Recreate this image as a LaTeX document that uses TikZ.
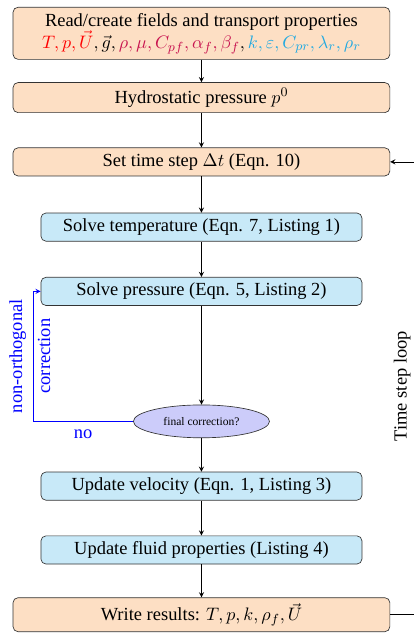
\documentclass[tikz,border=0pt]{standalone}
\usepackage{amsmath,amssymb}
\usepackage{fontspec}
\setmainfont{Liberation Serif}
\usepackage{tikz}
\usetikzlibrary{shapes.geometric, arrows.meta}
\definecolor{boxorange}{RGB}{253,223,196}
\definecolor{boxblue}{RGB}{200,233,248}
\definecolor{ellblue}{RGB}{204,204,250}
\definecolor{varpurple}{RGB}{200,20,80}
\definecolor{varcyan}{RGB}{35,170,225}
\tikzset{
  orangebox/.style={draw=black!80, fill=boxorange, rounded corners=3pt, minimum width=8.03cm, minimum height=0.6cm, align=center},
  bluebox/.style={draw=black!80, fill=boxblue, rounded corners=3pt, minimum width=6.84cm, minimum height=0.6cm},
  decision/.style={draw=black!80, fill=ellblue, ellipse, minimum width=2.9cm, minimum height=0.7cm, inner sep=0pt, font=\fontsize{7pt}{8pt}\selectfont},
}

\begin{document}
\begin{tikzpicture}[>=stealth, font=\fontsize{11.2pt}{13.4pt}\selectfont]
\useasboundingbox (0,0) rectangle (8.82,13.49);
% setup
\node[orangebox, minimum height=1.11cm] (read) at (4.293,12.78) {Read/create fields and transport properties\\
  $\color{red}T,p,\vec{U}\color{black},\vec{g},\color{varpurple}\rho,\mu,C_{pf},\alpha_f,\beta_f\color{black},\color{varcyan}k,\varepsilon,C_{pr},\lambda_r,\rho_r$};
\node[orangebox] (hydro) at (4.293,11.41) {Hydrostatic pressure $p^0$};
\node[orangebox] (dt) at (4.293,10.04) {Set time step $\Delta t$ (Eqn. 10)};
% solver
\node[bluebox] (temp) at (4.293,8.65) {Solve temperature (Eqn. 7, Listing 1)};
\node[bluebox] (press) at (4.293,7.28) {Solve pressure (Eqn. 5, Listing 2)};
\node[decision] (final) at (4.293,4.51) {final correction?};
\node[bluebox] (vel) at (4.293,3.13) {Update velocity (Eqn. 1, Listing 3)};
\node[bluebox] (prop) at (4.293,1.77) {Update fluid properties (Listing 4)};
\node[orangebox, minimum height=0.72cm] (write) at (4.293,0.39) {Write results: $T,p,k,\rho_f,\vec{U}$};
% main flow
\draw[->] (read)--(hydro);
\draw[->] (hydro)--(dt);
\draw[->] (dt)--(temp);
\draw[->] (temp)--(press);
\draw[->] (press)--(final);
\draw[->] (final)--(vel);
\draw[->] (vel)--(prop);
\draw[->] (prop)--(write);
% non-orthogonal loop
\coordinate (corr) at (0.70,4.51);
\draw[->, blue] (final.west)--(corr)|-(press.west);
\node[blue] (no) at (1.77,4.24) {no};
\node[blue, rotate=90] (nonorth) at (0.38,5.90) {non-orthogonal};
\node[blue, rotate=90] (corrlab) at (0.94,5.90) {correction};
% time step loop
\coordinate (loopr) at (9.2,0.39);
\draw[->] (write.east)--(loopr)|-(dt.east);
\node[rotate=90] (loop) at (8.57,5.26) {Time step loop};
\end{tikzpicture}
\end{document}
